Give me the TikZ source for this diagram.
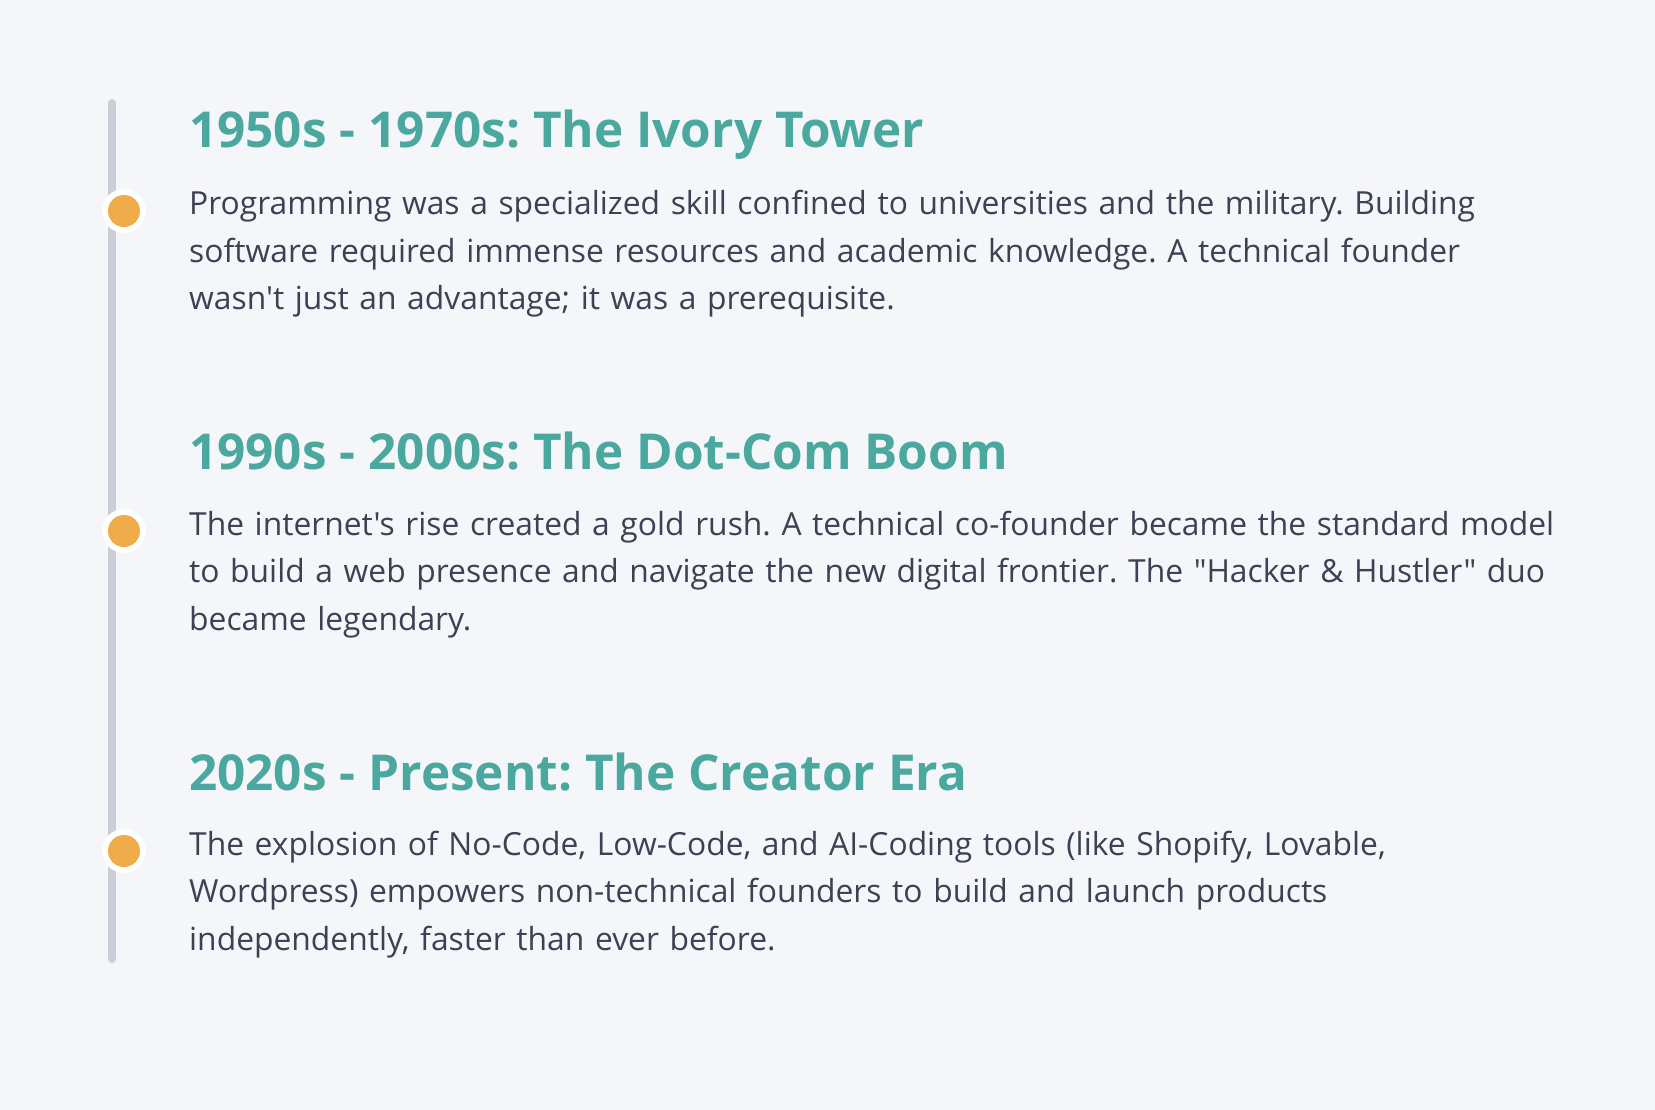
\documentclass[tikz,border=0pt]{standalone}
\usepackage{fontspec}
\setmainfont{Open Sans}[Ligatures=TeXOff]
\frenchspacing
\definecolor{bgc}{HTML}{F5F6FA}
\definecolor{teal}{HTML}{4BA89E}
\definecolor{bodyc}{HTML}{3B4253}
\definecolor{dotc}{HTML}{F0AC4A}
\definecolor{linec}{HTML}{CBCDD8}
\begin{document}
\begin{tikzpicture}[x=1pt,y=-1pt,
  heading/.style={anchor=base west, inner sep=0pt, text=teal,
    font=\fontsize{49.5}{58}\selectfont\bfseries},
  bodytext/.style={anchor=base west, inner sep=0pt, text=bodyc, align=left,
    text width=1450pt, font=\fontsize{31.8}{47.5}\selectfont},
  ring/.style={circle, fill=white, minimum size=44pt, inner sep=0pt},
  dot/.style={circle, fill=dotc, minimum size=32pt, inner sep=0pt}]
\fill[bgc] (0,0) rectangle (1655,1110);
\useasboundingbox (0,0) rectangle (1655,1110);
\coordinate (ltop) at (112,103);
\coordinate (lbot) at (112,959);
\draw[linec, line width=8pt, line cap=round] (ltop) -- (lbot);
\foreach \i/\y in {1/211,2/531,3/851}{
  \node[ring] (r\i) at (124,\y) {};
  \node[dot] (d\i) at (124,\y) {};
}
\node[heading] (h1) at (189,148) {1950s - 1970s: The Ivory Tower};
\node[bodytext] (b1) at (189,215) {Programming was a specialized skill confined to universities and the military. Building\\
software required immense resources and academic knowledge. A technical founder\\
wasn't just an advantage; it was a prerequisite.};
\node[heading] (h2) at (189,469) {1990s - 2000s: The Dot-Com Boom};
\node[bodytext] (b2) at (189,535) {The internet's rise created a gold rush. A technical co-founder became the standard model\\
to build a web presence and navigate the new digital frontier. The "Hacker \& Hustler" duo\\
became legendary.};
\node[heading] (h3) at (189,790) {2020s - Present: The Creator Era};
\node[bodytext] (b3) at (189,855) {The explosion of No-Code, Low-Code, and AI-Coding tools (like Shopify, Lovable,\\
Wordpress) empowers non-technical founders to build and launch products\\
independently, faster than ever before.};
\end{tikzpicture}
\end{document}
